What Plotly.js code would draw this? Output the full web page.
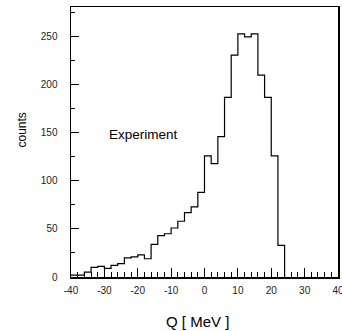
<!DOCTYPE html>
<html>
<head>
<meta charset="utf-8">
<script src="https://cdn.plot.ly/plotly-3.0.1.min.js"></script>
<style>html,body{margin:0;padding:0;background:#fff;}#chart{width:342px;height:331px;}</style>
</head>
<body>
<div id="chart"></div>
<script>
// Bin lower edges (MeV), bin width 2 MeV
const binEdges = [-40,-38,-36,-34,-32,-30,-28,-26,-24,-22,-20,-18,-16,-14,-12,-10,-8,-6,-4,-2,0,2,4,6,8,10,12,14,16,18,20,22,24];
// Counts per bin
const counts = [2,2,5,10,11,9,12,14,20,21,23,19,34,43,45,51,58,67,73,88,126,118,146,187,231,253,250,253,210,187,126,33];
const xTickVals = [-40,-30,-20,-10,0,10,20,30,40];
const yTickVals = [0,50,100,150,200,250];
const labelText = "Experiment";
const xTitle = "Q [ MeV ]";
const yTitle = "counts";

const yStep = counts.concat([0]);

const trace = {
  x: binEdges,
  y: yStep,
  type: 'scatter',
  mode: 'lines',
  line: {shape: 'hv', color: '#000', width: 1.2},
  hoverinfo: 'skip'
};

const tickFont = {family: 'Liberation Sans, Arial, sans-serif', size: 10, color: '#222'};

const layout = {
  width: 342, height: 331,
  margin: {l: 71, r: 4, t: 7, b: 54},
  paper_bgcolor: '#fff', plot_bgcolor: '#fff',
  showlegend: false,
  xaxis: {
    range: [-40, 40],
    tickvals: xTickVals,
    ticktext: xTickVals.map(String),
    ticks: 'inside', ticklen: 9, tickwidth: 1, tickcolor: '#000',
    minor: {dtick: 2, tick0: 0, ticks: 'inside', ticklen: 5, tickwidth: 1, tickcolor: '#000'},
    showline: true, linecolor: '#000', linewidth: 1.5, mirror: true,
    showgrid: false, zeroline: false,
    tickfont: tickFont,
    ticklabeloverflow: 'allow',
    ticklabelstandoff: 3
  },
  yaxis: {
    range: [0, 281],
    tickvals: yTickVals,
    ticktext: yTickVals.map(String),
    ticks: 'inside', ticklen: 8, tickwidth: 1, tickcolor: '#000',
    minor: {dtick: 25, tick0: 0, ticks: 'inside', ticklen: 4, tickwidth: 1, tickcolor: '#000'},
    showline: true, linecolor: '#000', linewidth: 1.5, mirror: true,
    showgrid: false, zeroline: false,
    tickfont: tickFont,
    ticklabelstandoff: 10
  },
  annotations: [
    {text: labelText, x: -18.4, y: 148, xref: 'x', yref: 'y', showarrow: false,
     xanchor: 'center', yanchor: 'middle',
     font: {family: 'Liberation Sans, Arial, sans-serif', size: 13.5, color: '#000'}},
    {text: xTitle, x: (197.5-71)/267, y: (277-321)/270, xref: 'paper', yref: 'paper', showarrow: false,
     xanchor: 'center', yanchor: 'middle',
     font: {family: 'Liberation Sans, Arial, sans-serif', size: 15, color: '#000'}},
    {text: yTitle, x: (21.5-71)/267, y: (277-130)/270, xref: 'paper', yref: 'paper', showarrow: false,
     textangle: -90, xanchor: 'center', yanchor: 'middle',
     font: {family: 'Liberation Sans, Arial, sans-serif', size: 12, color: '#000'}}
  ]
};

Plotly.newPlot('chart', [trace], layout, {staticPlot: true, displayModeBar: false});
</script>
</body>
</html>
